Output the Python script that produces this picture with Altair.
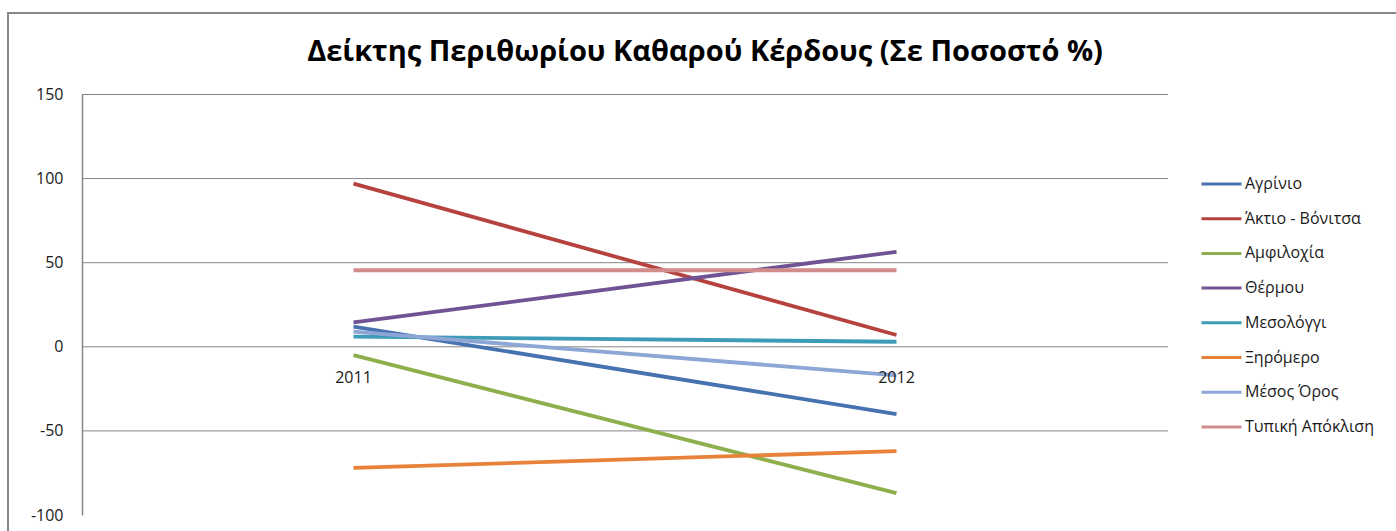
import altair as alt
import pandas as pd

years = ["2011", "2012"]
series = ["Αγρίνιο", "Άκτιο - Βόνιτσα", "Αμφιλοχία", "Θέρμου",
          "Μεσολόγγι", "Ξηρόμερο", "Μέσος Όρος", "Τυπική Απόκλιση"]
v2011 = [12, 97, -5, 14.5, 6, -72, 9, 45.5]
v2012 = [-40, 7, -87, 56.5, 3, -62, -17, 45.5]
colors = ["#4672B0", "#B5423F", "#8EB04C", "#6F5394",
          "#3E9CB8", "#E8823A", "#8CA6D6", "#D28C8B"]
y_ticks = [-100, -50, 0, 50, 100, 150]
grid_vals = [-50, 0, 50, 100, 150]

rows = []
for i, s in enumerate(series):
    rows.append({"series": s, "year": years[0], "value": v2011[i], "k": i})
    rows.append({"series": s, "year": years[1], "value": v2012[i], "k": i})
df = pd.DataFrame(rows)
lab = pd.DataFrame({"year": years, "value": [0, 0]})
grid = pd.DataFrame({"g": grid_vals})

FONT = "Open Sans"
GRID = "#868686"

xs = alt.X("year:N", scale=alt.Scale(type="point", padding=0.5, domain=years), axis=None)
ys = alt.Scale(domain=[-100, 150], nice=False, zero=False)
yaxis = alt.Axis(values=y_ticks, grid=False, ticks=False, domain=True,
                 domainColor=GRID, domainWidth=1.5, labelPadding=19,
                 labelFont=FONT, labelFontSize=16, labelColor="#1a1a1a",
                 labelExpr="datum.value + ''", title=None)

gridlines = alt.Chart(grid).mark_rule(color=GRID, strokeWidth=1).encode(
    y=alt.Y("g:Q", scale=ys, axis=yaxis)
)

lines = alt.Chart(df).mark_line(strokeWidth=3.8).encode(
    x=xs,
    y=alt.Y("value:Q", scale=ys, axis=yaxis),
    color=alt.Color("series:N", sort=series,
                    scale=alt.Scale(domain=series, range=colors),
                    legend=alt.Legend(title=None, orient="none", legendX=1118, legendY=68,
                                      symbolType="stroke", symbolSize=1600,
                                      symbolStrokeWidth=3, labelFont=FONT,
                                      labelFontSize=16, labelColor="#1a1a1a",
                                      labelOffset=2, rowPadding=4.7)),
    detail="series:N",
    order="k:Q",
)

xlabels = alt.Chart(lab).mark_text(font=FONT, fontSize=16, color="#1a1a1a", dy=31).encode(
    x=xs, y=alt.Y("value:Q", scale=ys, axis=yaxis), text="year:N"
)

border = alt.Chart(alt.Data(values=[{}])).mark_rect(
    fill=None, stroke="#888888", strokeWidth=2
).encode(
    x=alt.value(-74), x2=alt.value(1340), y=alt.value(-81.5), y2=alt.value(460)
)

chart = alt.layer(border, gridlines, lines, xlabels).properties(
    width=1086, height=420.5,
    autosize=alt.AutoSizeParams(type="none"),
    padding={"left": 82, "top": 94.5, "right": 228, "bottom": 16},
    background="white",
    title=alt.Title("Δείκτης Περιθωρίου Καθαρού Κέρδους (Σε Ποσοστό %)",
                    font=FONT, fontSize=29, fontWeight="bold", color="#000",
                    anchor="middle", dx=80, offset=-55, frame="group"),
).configure_view(strokeWidth=0, stroke="transparent")

chart.save("out.html", embed_options={"renderer": "svg", "actions": False})
